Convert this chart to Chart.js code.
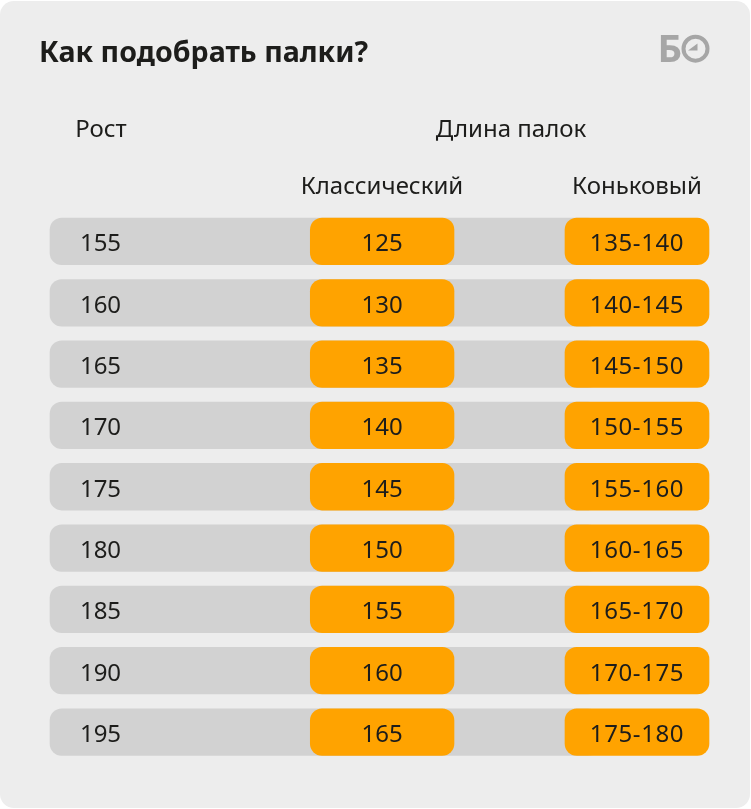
<!DOCTYPE html>
<html lang="ru">
<head>
<meta charset="utf-8">
<title>Как подобрать палки?</title>
<script src="https://cdn.jsdelivr.net/npm/chart.js@4"></script>
<style>
    html, body { margin: 0; padding: 0; background: #fff; }
    #card { position: absolute; left: 0; top: 1px; width: 750px; height: 807px; background: #ededed; border-radius: 14px; }
    #chart { position: absolute; left: 0; top: 0; }
</style>
</head>
<body>
<div id="card"></div>
<canvas id="chart" width="751" height="809"></canvas>
<script>
const titleText = 'Как подобрать палки?';
const heightHeader = 'Рост';
const lengthHeader = 'Длина палок';
const classicHeader = 'Классический';
const skateHeader = 'Коньковый';

const heights = ['155', '160', '165', '170', '175', '180', '185', '190', '195'];
const classicLengths = ['125', '130', '135', '140', '145', '150', '155', '160', '165'];
const skateLengths = ['135-140', '140-145', '145-150', '150-155', '155-160', '160-165', '165-170', '170-175', '175-180'];

// column spans on the x scale
const trackSpan = [50, 600];
const classicSpan = [310.3, 454];
const skateSpan = [565, 709];
const heightCenter = 100.5;

const textColor = '#1d1d1b';
const fontName = '"Noto Sans", sans-serif';

function spanData(span) {
    return heights.map(() => span);
}

function middle(span) {
    return (span[0] + span[1]) / 2;
}

const tablePlugin = {
    id: 'tableText',
    afterDraw(chart) {
        const ctx = chart.ctx;
        const x = chart.scales.x;
        const y = chart.scales.y;
        ctx.save();
        ctx.fillStyle = textColor;
        ctx.textBaseline = 'alphabetic';

        // Title
        ctx.textAlign = 'left';
        ctx.font = 'bold 28.6px ' + fontName;
        ctx.fillText(titleText, 39, 62);

        // Headers
        ctx.font = '24px ' + fontName;
        ctx.textAlign = 'center';
        ctx.fillText(heightHeader, x.getPixelForValue(101), 137);
        ctx.fillText(lengthHeader, x.getPixelForValue(511), 137);
        ctx.fillText(classicHeader, x.getPixelForValue(382), 194);
        ctx.fillText(skateHeader, x.getPixelForValue(637), 194);

        // Cells
        heights.forEach((h, i) => {
            const py = y.getPixelForValue(i) + 10;
            ctx.fillText(h, x.getPixelForValue(heightCenter), py);
            ctx.fillText(classicLengths[i], x.getPixelForValue(middle(classicSpan)), py);
            ctx.letterSpacing = '0.6px';
            ctx.fillText(skateLengths[i], x.getPixelForValue(middle(skateSpan)), py);
            ctx.letterSpacing = '0px';
        });

        // Logo
        ctx.fillStyle = '#a6a6a6';
        ctx.strokeStyle = '#a6a6a6';
        ctx.textAlign = 'left';
        ctx.font = 'bold 38px ' + fontName;
        ctx.fillText('Б', 657.5, 62);
        ctx.lineWidth = 4;
        ctx.beginPath();
        ctx.arc(695.5, 48.7, 12, 0, Math.PI * 2);
        ctx.stroke();
        ctx.beginPath();
        ctx.moveTo(688, 50.5);
        ctx.lineTo(697.5, 43.5);
        ctx.lineTo(697.5, 50.5);
        ctx.closePath();
        ctx.fill();
        ctx.restore();
    }
};

function cellDataset(span, color) {
    return {
        data: spanData(span),
        backgroundColor: color,
        borderRadius: 12,
        borderSkipped: false,
        barThickness: 46.6
    };
}

new Chart(document.getElementById('chart').getContext('2d'), {
    type: 'bar',
    data: {
        labels: heights,
        datasets: [
            // drawn last to first by order, so the track stays behind
            Object.assign(cellDataset(skateSpan, '#ffa300'), { order: 1 }),
            Object.assign(cellDataset(classicSpan, '#ffa300'), { order: 2 }),
            Object.assign(cellDataset(trackSpan, '#d2d2d2'), { order: 3 })
        ]
    },
    options: {
        indexAxis: 'y',
        responsive: false,
        animation: false,
        layout: { padding: { left: 0, right: 0, top: 210.8, bottom: 46.3 } },
        plugins: { legend: { display: false }, tooltip: { enabled: false }, title: { display: false } },
        scales: {
            x: { display: false, min: 0, max: 751 },
            y: { display: false, stacked: true }
        }
    },
    plugins: [tablePlugin]
});
</script>
</body>
</html>
